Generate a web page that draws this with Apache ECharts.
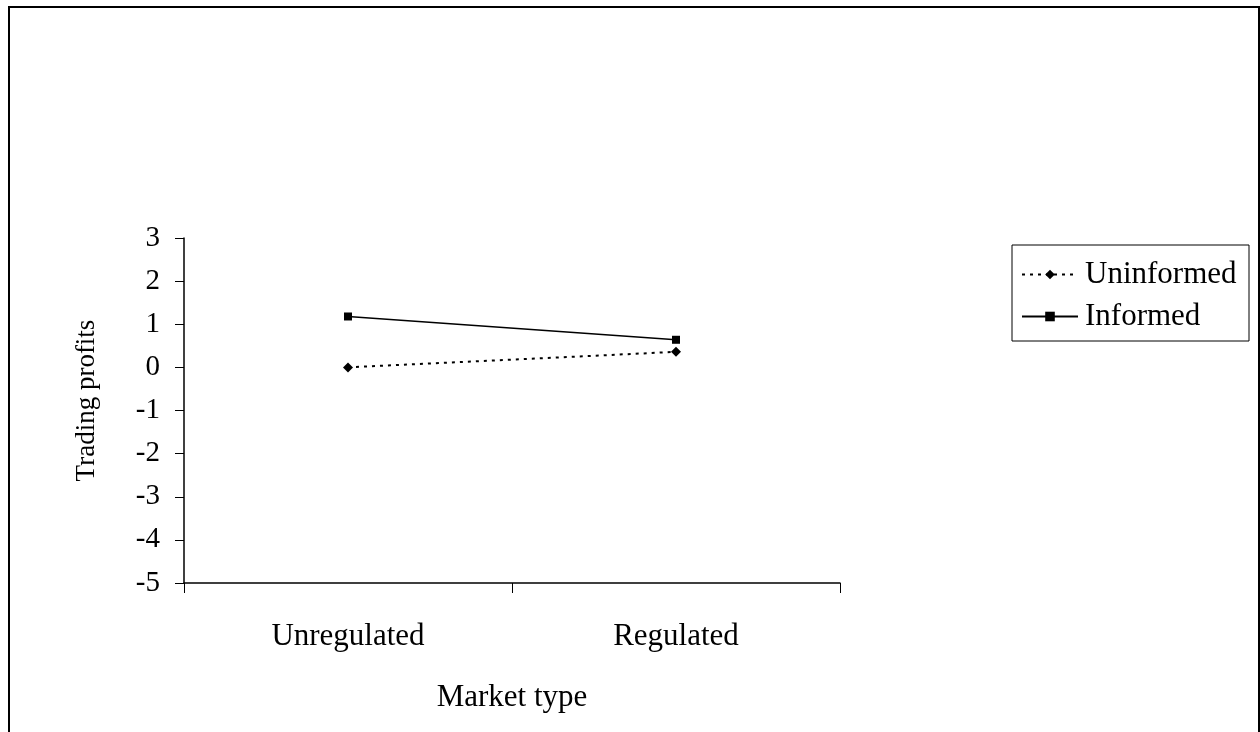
<!DOCTYPE html>
<html>
<head>
<meta charset="utf-8">
<script src="https://cdn.jsdelivr.net/npm/echarts@6/dist/echarts.min.js"></script>
<style>
  html, body { margin: 0; padding: 0; background: #fff; }
  #main { width: 1260px; height: 732px; }
</style>
</head>
<body>
<div id="main"></div>
<script>
// 数据
var categories = ['Unregulated', 'Regulated'];
var uninformed = [0, 0.36];
var informed = [1.18, 0.64];
var yTicks = { min: -5, max: 3, step: 1 };

var fontFamily = '"Liberation Serif", "Times New Roman", serif';
var bigFont = 31;   // 横向文字
var tickFont = 29;  // y轴刻度
var yNameFont = 27; // y轴标题

var myChart = echarts.init(document.getElementById('main'));

var option = {
    backgroundColor: '#fff',
    animation: false,
    // 外框
    graphic: [{
        type: 'rect',
        shape: { x: 9, y: 7, width: 1250, height: 800 },
        style: { fill: 'none', stroke: '#000', lineWidth: 2 },
        silent: true
    }],
    grid: {
        left: 184,
        right: 420,
        top: 238,
        bottom: 149
    },
    legend: {
        orient: 'vertical',
        left: 1012,
        top: 245,
        padding: [14, 6, 9, 9],
        borderColor: '#000',
        borderWidth: 1,
        itemWidth: 56,
        itemHeight: 12,
        itemGap: 11,
        textStyle: {
            fontFamily: fontFamily,
            fontSize: bigFont,
            color: '#000',
            lineHeight: 30,
            width: 158,
            padding: [0, 0, 0, 2]
        },
        data: ['Uninformed', 'Informed']
    },
    xAxis: {
        type: 'category',
        data: categories,
        boundaryGap: true,
        name: 'Market type',
        nameLocation: 'middle',
        nameGap: 99,
        nameTextStyle: { fontFamily: fontFamily, fontSize: bigFont, color: '#000' },
        axisLine: { onZero: false, lineStyle: { color: '#000', width: 1.5 } },
        axisTick: { show: true, inside: false, length: 10, lineStyle: { color: '#000' } },
        axisLabel: { margin: 38, fontFamily: fontFamily, fontSize: bigFont, color: '#000' },
        splitLine: { show: false }
    },
    yAxis: {
        type: 'value',
        min: yTicks.min,
        max: yTicks.max,
        interval: yTicks.step,
        name: 'Trading profits',
        nameLocation: 'middle',
        nameGap: 84,
        nameTextStyle: { fontFamily: fontFamily, fontSize: yNameFont, color: '#000', padding: [0, 0, 0, 20] },
        axisLine: { show: true, lineStyle: { color: '#000', width: 1.5 } },
        axisTick: { show: true, inside: false, length: 9, lineStyle: { color: '#000' } },
        axisLabel: { margin: 24, fontFamily: fontFamily, fontSize: tickFont, color: '#000' },
        splitLine: { show: false }
    },
    series: [
        {
            name: 'Uninformed',
            type: 'line',
            data: uninformed,
            symbol: 'diamond',
            symbolSize: 10,
            itemStyle: { color: '#000' },
            lineStyle: { color: '#000', width: 2, type: [3, 5] }
        },
        {
            name: 'Informed',
            type: 'line',
            data: informed,
            symbol: 'rect',
            symbolSize: 8,
            itemStyle: { color: '#000' },
            lineStyle: { color: '#000', width: 1.5, type: 'solid' }
        }
    ]
};
myChart.setOption(option);
</script>
</body>
</html>
